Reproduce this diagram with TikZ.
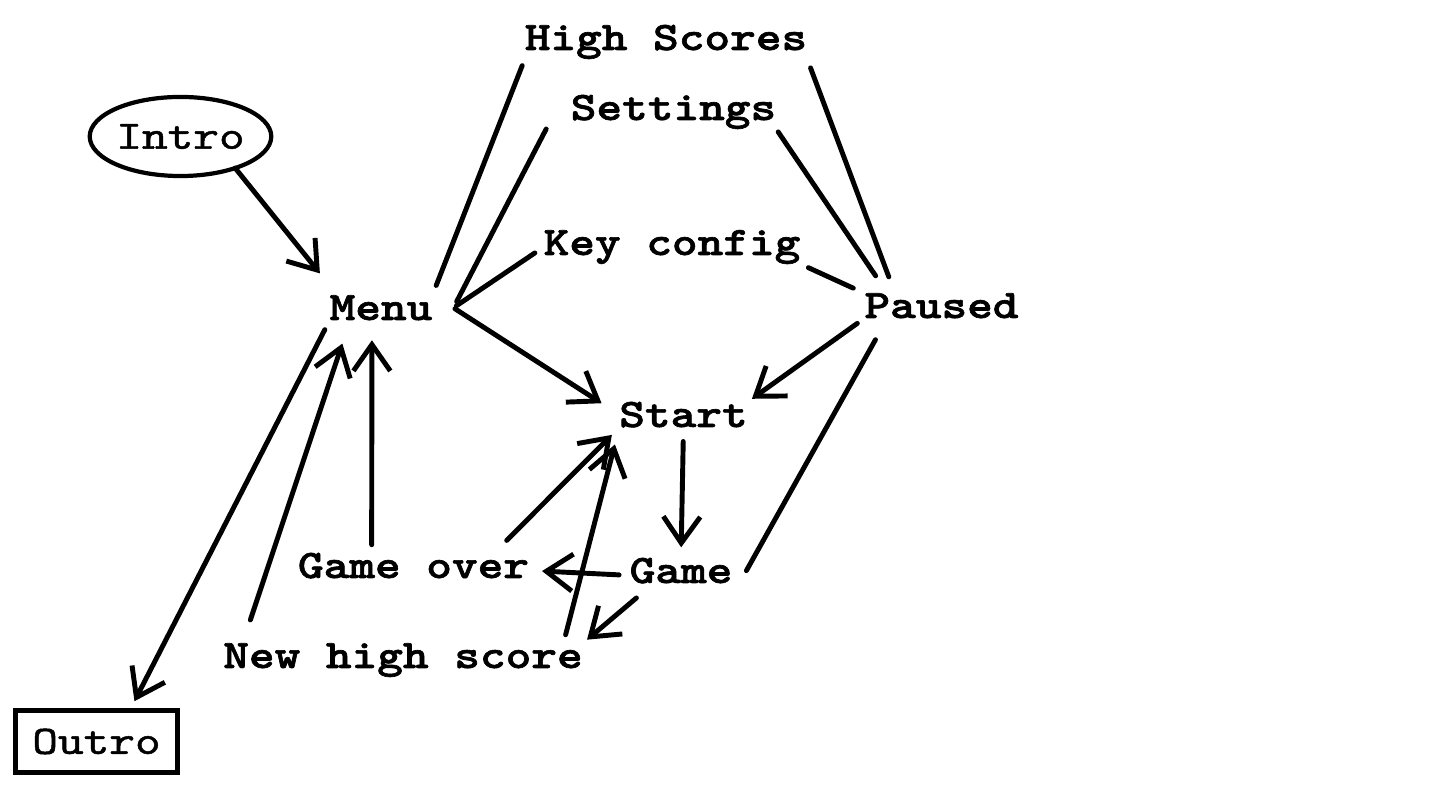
\documentclass[tikz,border=0pt]{standalone}
\usepackage{fontspec}
\usetikzlibrary{arrows.meta,shapes.geometric}
\newfontfamily\letra[FakeStretch=1.21,FakeBold=1.6]{lmmonolt10-bold.otf}
\newfontfamily\letrafina[FakeStretch=1.21,FakeBold=1.2]{lmmono10-regular.otf}

\begin{document}
\begin{tikzpicture}[x=0.1mm,y=-0.1mm,
  every node/.style={font=\fontsize{11.5}{13}\selectfont\letra,inner sep=0pt,outer sep=0pt},
  estado/.style={anchor=base},
  inicio/.style={ellipse,draw,line width=1.2pt,font=\fontsize{11.5}{13}\selectfont\letrafina,
                 minimum width=51.5pt,minimum height=22.5pt},
  final/.style={rectangle,draw,line width=1.45pt,font=\fontsize{11.5}{13}\selectfont\letrafina,
                minimum width=46.1pt,minimum height=17.6pt},
  enlace/.style={line width=1.4pt,line cap=round},
  flecha/.style={enlace,-{Straight Barb[length=7.5pt,width=10.5pt]}}
]
\useasboundingbox (0,0) rectangle (1452,791);
\fill[white] (0,0) rectangle (1452,791);

\node[inicio] (intro) at (180.5,136.5) {Intro};
\node[final] (outro) at (96.5,741.5) {Outro};
\foreach \n/\x/\y/\t in {hs/666/50/High Scores,settings/673.5/120/Settings,
  keyconfig/672/255/Key config,paused/941.5/318/Paused,menu/381/320/Menu,
  start/683.5/427/Start,game/681/583/Game,gameover/413.5/578/Game over,
  newhigh/403/668/New high score} {
  \node[estado] (\n) at (\x,\y) {\t};
}

% menu and paused open the same screens
\foreach \a/\b/\s/\e in {menu.north east/hs.south west/3pt/2pt,
  paused.165/hs.south east/5pt/2.7pt,paused.167/settings.south east/6pt/1pt,
  paused.north west/keyconfig.south east/3.5pt/2.5pt} {
  \draw[enlace,shorten <=\s,shorten >=\e] (\a) -- (\b);
}
\draw[enlace,shorten <=2pt] ([xshift=6pt]menu.east) -- ([xshift=-7pt]settings.south west);
\draw[enlace,shorten <=1pt,shorten >=3pt] ([xshift=6pt]menu.east) -- (keyconfig.west);
\draw[enlace,shorten <=7pt] (paused.-167) -- ([xshift=4pt]game.east);

% transitions
\draw[flecha,shorten <=0.5pt,shorten >=6pt] ([xshift=6pt]menu.east) -- (start.west);
\foreach \a/\b/\s/\e in {intro.-30/menu.164/0pt/8pt,
  paused.south west/start.north east/2.5pt/1.5pt,start.south/game.north/4pt/3pt,
  game.mid west/gameover.mid east/3pt/3.7pt,game.-155/newhigh.north east/6.4pt/1.6pt,
  gameover.9/start.south west/5pt/3pt,newhigh.6/start.south west/2.5pt/5pt,
  gameover.163/menu.-126/2.3pt/5.7pt,newhigh.174/menu.-158/7pt/7pt,
  menu.south west/outro.43/3pt/3pt} {
  \draw[flecha,shorten <=\s,shorten >=\e] (\a) -- (\b);
}
\end{tikzpicture}
\end{document}
